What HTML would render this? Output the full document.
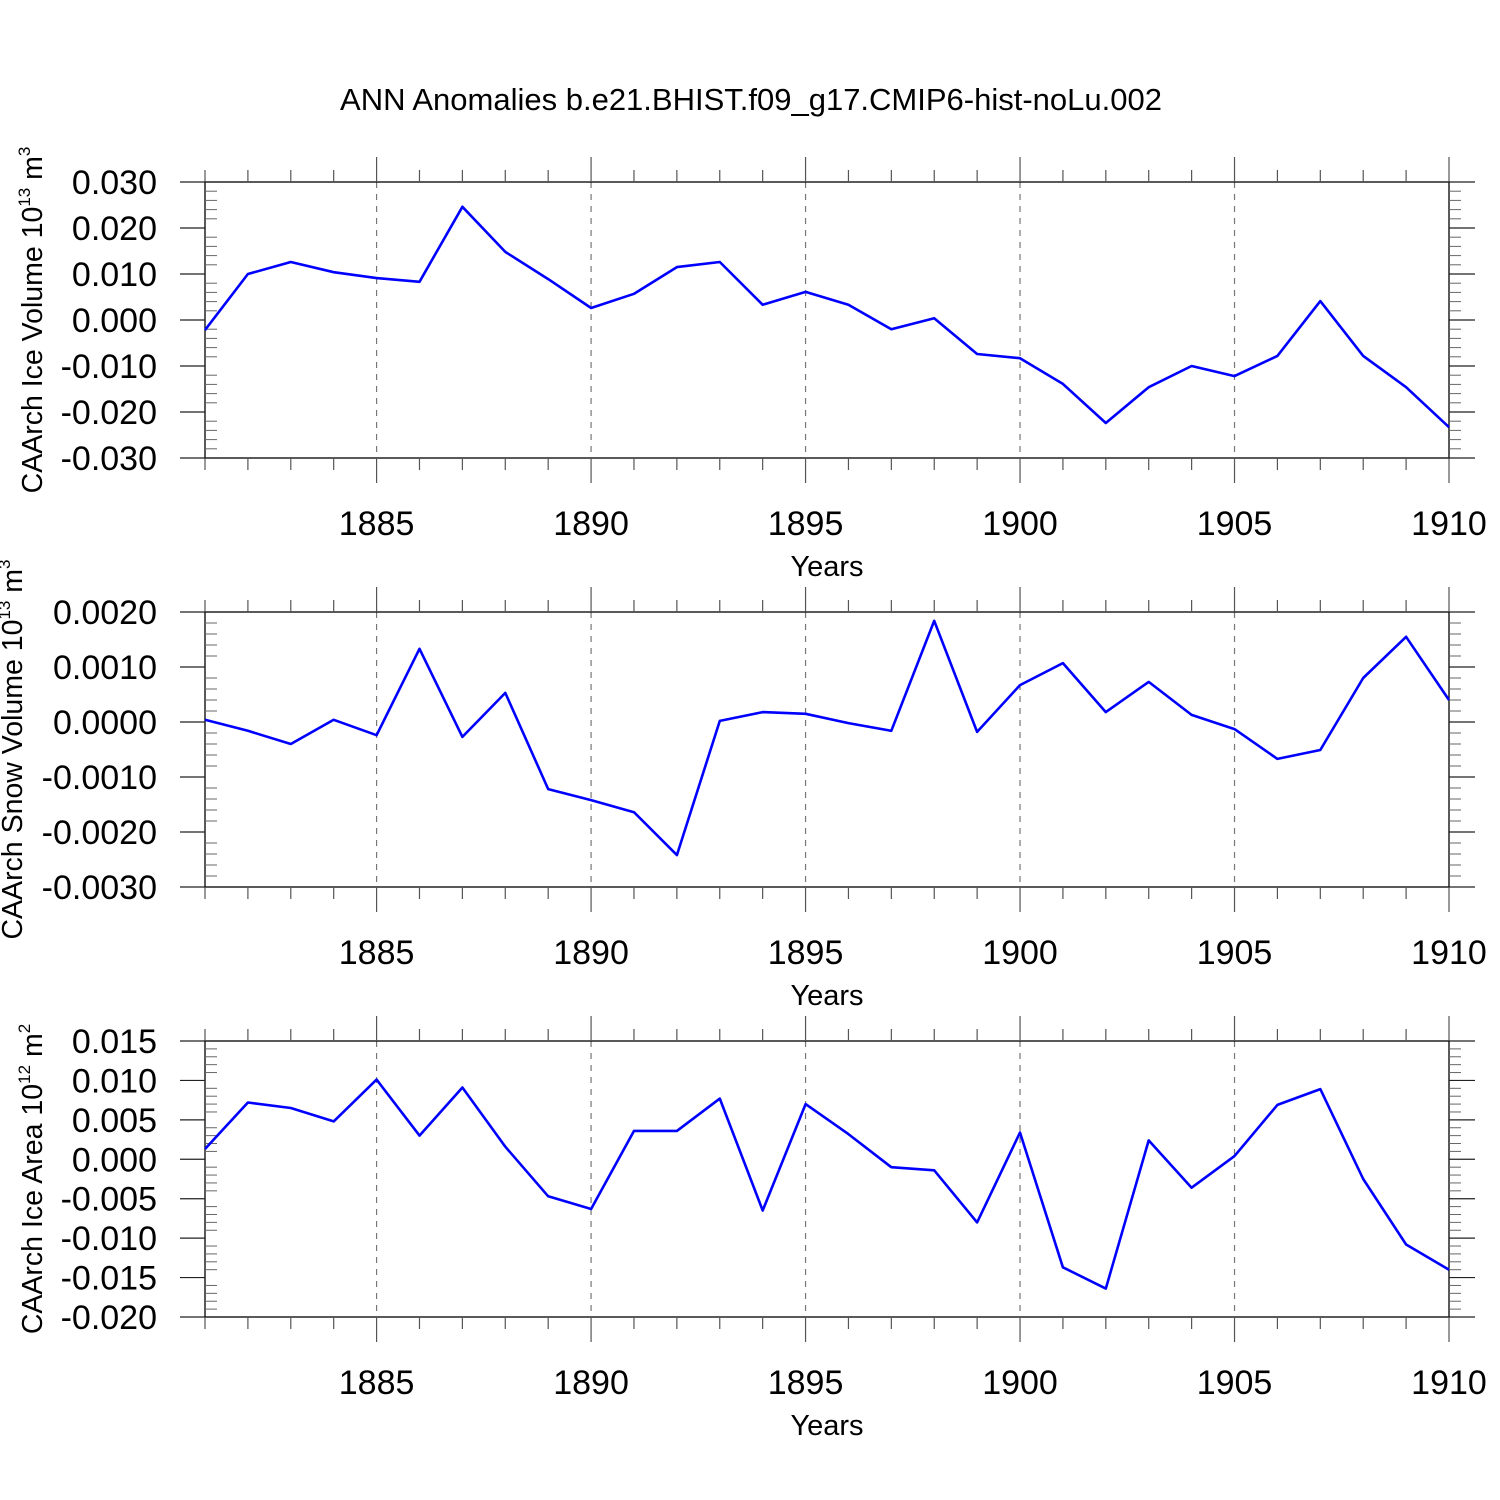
<!DOCTYPE html>
<html><head><meta charset="utf-8"><style>
html,body{margin:0;padding:0;background:#fff}
svg{display:block;font-family:"Liberation Sans",sans-serif}
</style></head><body>
<svg id="chart" width="1500" height="1500" viewBox="0 0 1500 1500">
<text x="751" y="110" font-size="31" text-anchor="middle">ANN Anomalies b.e21.BHIST.f09_g17.CMIP6-hist-noLu.002</text>
</svg>
<script>
const years = [1881,1882,1883,1884,1885,1886,1887,1888,1889,1890,1891,1892,1893,1894,1895,1896,1897,1898,1899,1900,1901,1902,1903,1904,1905,1906,1907,1908,1909,1910];
const iceVolume = [-0.0022,0.0100,0.0126,0.0104,0.0091,0.0083,0.0246,0.0148,0.0089,0.0026,0.0057,0.0115,0.0126,0.0033,0.0061,0.0033,-0.0020,0.0004,-0.0074,-0.0083,-0.0139,-0.0224,-0.0146,-0.0100,-0.0122,-0.0078,0.0041,-0.0078,-0.0146,-0.0233];
const snowVolume = [0.00004,-0.00016,-0.00040,0.00004,-0.00024,0.00133,-0.00027,0.00053,-0.00122,-0.00142,-0.00164,-0.00242,0.00002,0.00018,0.00015,-0.00002,-0.00016,0.00184,-0.00018,0.00067,0.00107,0.00018,0.00073,0.00013,-0.00013,-0.00067,-0.00051,0.00080,0.00155,0.00040];
const iceArea = [0.0013,0.0072,0.0065,0.0048,0.0101,0.0030,0.0091,0.0016,-0.0047,-0.0063,0.0036,0.0036,0.0077,-0.0065,0.0070,0.0032,-0.0010,-0.0014,-0.0080,0.0034,-0.0137,-0.0164,0.0024,-0.0036,0.0004,0.0069,0.0089,-0.0025,-0.0108,-0.0140];
const xTickLabels = [1885,1890,1895,1900,1905,1910];
const iceVolumeTicks = ["0.030","0.020","0.010","0.000","-0.010","-0.020","-0.030"];
const snowVolumeTicks = ["0.0020","0.0010","0.0000","-0.0010","-0.0020","-0.0030"];
const iceAreaTicks = ["0.015","0.010","0.005","0.000","-0.005","-0.010","-0.015","-0.020"];

const NS="http://www.w3.org/2000/svg";
const svg=document.getElementById('chart');
function mk(tag,attrs,parent){const e=document.createElementNS(NS,tag);for(const k in attrs)e.setAttribute(k,attrs[k]);(parent||svg).appendChild(e);return e;}
const X0=205,X1=1449,XMIN=1881,XMAX=1910;
function xs(v){return X0+(v-XMIN)/(XMAX-XMIN)*(X1-X0);}

function panel(cfg){
  const {top,bot,ymin,ymax,major,ticks,values,title,sup,unit,name,tx}=cfg;
  const ys=v=>bot-(v-ymin)/(ymax-ymin)*(bot-top);
  const g=mk('g',{});
  
  
  xTickLabels.forEach(y=>{
    if(y===XMAX)return;
    const l=mk('line',{x1:xs(y),x2:xs(y),y1:top,y2:bot,stroke:'#777','stroke-width':1.2,'stroke-dasharray':'6,6'},g);
    
    
  });
  const f=mk('rect',{x:X0,y:top,width:X1-X0,height:bot-top,fill:'none',stroke:'#000','stroke-width':1.3},g);
  
  
  for(let yr=XMIN;yr<=XMAX;yr++){
    const isMaj=yr%5===0;const len=isMaj?25:12;const x=xs(yr);
    mk('line',{x1:x,x2:x,y1:top,y2:top-len,stroke:'#555','stroke-width':1.2},g);
    mk('line',{x1:x,x2:x,y1:bot,y2:bot+len,stroke:'#555','stroke-width':1.2},g);
  }
  xTickLabels.forEach(yr=>{
    const t=mk('text',{x:xs(yr),y:bot+77,'font-size':34,'text-anchor':'middle'},g);
    t.textContent=yr;
    
    
  });
  const xt=mk('text',{x:827,y:bot+118,'font-size':29,'text-anchor':'middle'},g);
  xt.textContent='Years';
  
  
  const n=ticks.length;
  for(let i=0;i<n;i++){
    const v=ymax-i*major;const y=ys(v);
    mk('line',{x1:180,x2:X0,y1:y,y2:y,stroke:'#222','stroke-width':1.2},g);
    mk('line',{x1:X1,x2:1475,y1:y,y2:y,stroke:'#222','stroke-width':1.2},g);
    const t=mk('text',{x:157,y:y+12,'font-size':34,'text-anchor':'end'},g);
    t.textContent=ticks[i];
    
    
    if(i<n-1){for(let k=1;k<5;k++){const yy=ys(v-k*major/5);
      mk('line',{x1:X0,x2:X0+12,y1:yy,y2:yy,stroke:'#666','stroke-width':1},g);
      mk('line',{x1:X1,x2:X1+12,y1:yy,y2:yy,stroke:'#666','stroke-width':1},g);}}
  }
  const cy=(top+bot)/2;
  const yt=mk('text',{x:0,y:0,'font-size':28.5,'text-anchor':'middle',transform:`translate(${tx},${cy}) rotate(-90)`},g);
  
  
  const a=mk('tspan',{},yt);a.textContent=title+' 10';
  const b=mk('tspan',{'font-size':17,dy:-12},yt);b.textContent=sup;
  const c=mk('tspan',{dy:12},yt);c.textContent=' m';
  const d=mk('tspan',{'font-size':17,dy:-12},yt);d.textContent=unit;
  const pts=years.map((yr,i)=>xs(yr).toFixed(1)+','+ys(values[i]).toFixed(1)).join(' ');
  const p=mk('polyline',{points:pts,fill:'none',stroke:'#0000ff','stroke-width':2.6,'stroke-linejoin':'round'},g);
  
  
}
panel({top:182,bot:458,ymin:-0.03,ymax:0.03,major:0.01,ticks:iceVolumeTicks,values:iceVolume,title:'CAArch Ice Volume',sup:'13',unit:'3',name:'ice-volume',tx:42});
panel({top:612,bot:887,ymin:-0.003,ymax:0.002,major:0.001,ticks:snowVolumeTicks,values:snowVolume,title:'CAArch Snow Volume',sup:'13',unit:'3',name:'snow-volume',tx:22});
panel({top:1041,bot:1317,ymin:-0.02,ymax:0.015,major:0.005,ticks:iceAreaTicks,values:iceArea,title:'CAArch Ice Area',sup:'12',unit:'2',name:'ice-area',tx:42});
</script>
</body></html>
